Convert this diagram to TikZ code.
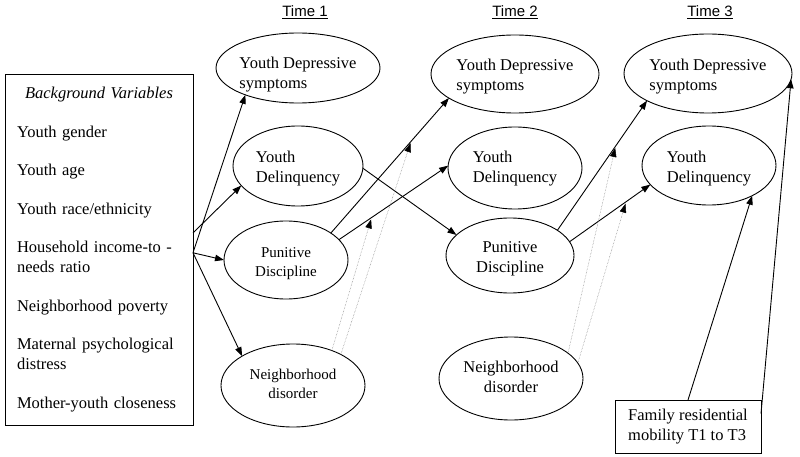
\documentclass[tikz,border=0pt]{standalone}
\usepackage{fontspec}
\setmainfont{Liberation Serif}
\newfontfamily\timesans{Liberation Sans}
\usetikzlibrary{shapes.geometric,arrows.meta}
\newcommand{\eltxt}[3][l]{\makebox[0pt]{\raisebox{#3}[\height][\depth]{\begin{tabular}{@{}#1@{}}#2\end{tabular}}}}
\begin{document}
\begin{tikzpicture}[x=1pt,y=-1pt,
  ell/.style={ellipse,draw,line width=0.9pt,inner sep=0pt,outer sep=0pt},
  big/.style={font=\fontsize{16.5}{20}\selectfont},
  small/.style={font=\fontsize{15}{19}\selectfont},
  arr/.style={line width=0.9pt,-{Triangle[length=9pt,width=6.5pt]}},
  mod/.style={densely dotted,line width=0.5pt,draw=gray,-{Triangle[length=9pt,width=6.5pt,color=black]},shorten >=2pt},
  box/.style={draw,line width=0.9pt,outer sep=0pt},
  timelbl/.style={font=\timesans\fontsize{15}{18}\selectfont}]
\useasboundingbox (0,0) rectangle (800,457);

% time labels
\node[timelbl] (t1) at (305,12.5) {\underline{Time 1}};
\node[timelbl] (t2) at (515,12.5) {\underline{Time 2}};
\node[timelbl] (t3) at (710,12.5) {\underline{Time 3}};

% background box
\node[box,big,inner xsep=12pt,inner ysep=0pt,text width=164pt,minimum height=351pt,align=left] (bg) at (99,249.5)
{\makebox[\linewidth][c]{\itshape Background Variables}\\[18.5pt]
Youth gender\\[18.5pt]
Youth age\\[18.5pt]
Youth race/ethnicity\\[18.5pt]
Household income-to -\\
needs ratio\\[18.5pt]
Neighborhood poverty\\[18.5pt]
Maternal psychological\\
distress\\[18.5pt]
Mother-youth closeness};

% Time 1
\node[ell,big,minimum width=164pt,minimum height=70pt] (yds1) at (298,68) {\eltxt{Youth Depressive\\symptoms}{-7pt}};
\node[ell,big,minimum width=130pt,minimum height=80pt] (yd1) at (298,166) {\eltxt{Youth\\Delinquency}{-3pt}};
\node[ell,small,minimum width=124pt,minimum height=78pt] (pd1) at (286,260) {\eltxt[c]{Punitive\\Discipline}{-3pt}};
\node[ell,small,minimum width=144pt,minimum height=83pt] (nd1) at (293,385.5) {\eltxt[c]{Neighborhood\\disorder}{0pt}};

% Time 2
\node[ell,big,minimum width=168pt,minimum height=78pt] (yds2) at (515,74) {\eltxt{Youth Depressive\\symptoms}{-2.5pt}};
\node[ell,big,minimum width=134pt,minimum height=82pt] (yd2) at (515,168) {\eltxt{Youth\\Delinquency}{-1pt}};
\node[ell,big,minimum width=128pt,minimum height=75pt] (pd2) at (510,255.5) {\eltxt[c]{Punitive\\Discipline}{-3pt}};
\node[ell,big,minimum width=144pt,minimum height=83pt] (nd2) at (511,378.5) {\eltxt[c]{Neighborhood\\disorder}{0pt}};

% Time 3
\node[ell,big,minimum width=168pt,minimum height=79pt] (yds3) at (708,73.5) {\eltxt{Youth Depressive\\symptoms}{-3pt}};
\node[ell,big,minimum width=134pt,minimum height=79pt] (yd3) at (709,165.5) {\eltxt{Youth\\Delinquency}{-3pt}};

% family box
\node[box,big,inner sep=0pt,minimum width=146pt,minimum height=53pt,align=left] (fam) at (688,426.5) {Family residential\\mobility T1 to T3};

% connectors
\draw[arr] (bg.-2) -- (yds1.207);
\draw[arr] (bg.10) -- (yd1.199);
\draw[arr] (bg.-2) -- (pd1.180);
\draw[arr] (bg.-2) -- (nd1.150);
\draw[arr] (pd1.31) -- coordinate[pos=0.68] (m1) (yds2.200);
\draw[arr] (pd1.21) -- coordinate[pos=0.30] (m2) (yd2.178);
\draw[arr] (yd1.-2) -- (pd2.159);
\draw[mod] (nd1.33) -- (m1);
\draw[mod] (nd1.42) -- (m2);
\draw[arr] (pd2.28) -- coordinate[pos=0.65] (m3) (yds3.204);
\draw[arr] (pd2.13) -- coordinate[pos=0.70] (m4) (yd3.198);
\draw[mod] (nd2.24) -- (m3);
\draw[mod] (nd2.13) -- (m4);
\draw[arr] (fam.north) -- (yd3.-35);
\draw[arr] (fam.10) -- (yds3.-4);
\end{tikzpicture}
\end{document}
